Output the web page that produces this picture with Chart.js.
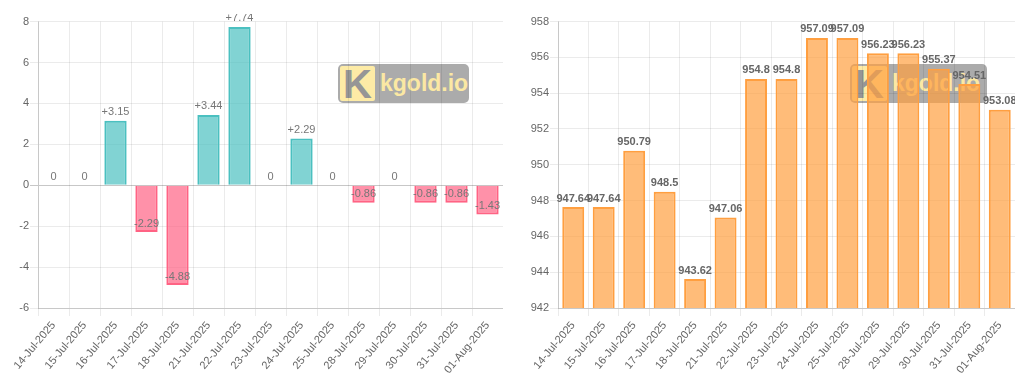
<!DOCTYPE html>
<html>
<head>
<meta charset="utf-8">
<script src="https://cdn.jsdelivr.net/npm/chart.js@4.4.0/dist/chart.umd.min.js"></script>
<style>
  html, body { margin: 0; padding: 0; background: #fff; width: 1024px; height: 383px; overflow: hidden; }
  .box { position: absolute; }
  .wm { position: absolute; height: 39px; background: rgba(128,128,128,0.66); border-radius: 5px;
        display: flex; align-items: center; font-family: "Liberation Sans", Arial, sans-serif; }
  .wm .ic { width: 35px; height: 35px; margin-left: 2px; background: #fdeba6; color: rgba(150,150,150,1);
            font-weight: bold; font-size: 40px; line-height: 36px; text-align: center; overflow: hidden; border-radius: 2px; }
  .wm .tx { margin-left: 5px; color: #fbe8a3; font-weight: bold; font-size: 23px; }
  canvas { position: relative; z-index: 2; }
</style>
</head>
<body>
<div class="wm" style="left:338px; top:64px; width:131px;"><div class="ic">K</div><div class="tx">kgold.io</div></div>
<div class="wm" style="left:850px; top:64px; width:137px;"><div class="ic">K</div><div class="tx">kgold.io</div></div>
<div class="box" style="left:0px; top:14px; width:503px; height:369px;"><canvas id="c1"></canvas></div>
<div class="box" style="left:512px; top:14px; width:503px; height:369px;"><canvas id="c2"></canvas></div>
<script>
const categories = ["14-Jul-2025","15-Jul-2025","16-Jul-2025","17-Jul-2025","18-Jul-2025","21-Jul-2025","22-Jul-2025","23-Jul-2025","24-Jul-2025","25-Jul-2025","28-Jul-2025","29-Jul-2025","30-Jul-2025","31-Jul-2025","01-Aug-2025"];
const changeValues = [0, 0, 3.15, -2.29, -4.88, 3.44, 7.74, 0, 2.29, 0, -0.86, 0, -0.86, -0.86, -1.43];
const priceValues = [947.64, 947.64, 950.79, 948.5, 943.62, 947.06, 954.8, 954.8, 957.09, 957.09, 956.23, 956.23, 955.37, 954.51, 953.08];
const changeTicks = [-6, -4, -2, 0, 2, 4, 6, 8];
const priceTicks = [942, 944, 946, 948, 950, 952, 954, 956, 958];

Chart.defaults.font.family = "'Liberation Sans', Arial, sans-serif";
Chart.defaults.font.size = 11;
Chart.defaults.color = '#666';

function labelPlugin(fmt, bold) {
  return {
    id: 'valLabels',
    afterDatasetsDraw(chart) {
      const ctx = chart.ctx;
      const meta = chart.getDatasetMeta(0);
      const data = chart.data.datasets[0].data;
      ctx.save();
      ctx.font = (bold ? 'bold ' : '') + "11px 'Liberation Sans', Arial, sans-serif";
      ctx.fillStyle = bold ? '#666' : '#777';
      ctx.textAlign = 'center';
      ctx.textBaseline = 'bottom';
      meta.data.forEach((bar, i) => {
        ctx.fillText(fmt(data[i]), bar.x, bar.y - 3);
      });
      ctx.restore();
    }
  };
}

function gridColor(zero) {
  return (c) => (zero && c.tick && c.tick.value === 0) ? 'rgba(0,0,0,0.22)' : 'rgba(0,0,0,0.08)';
}

function xScale() {
  return { ticks: { minRotation: 50, maxRotation: 50, autoSkip: false },
           grid: { color: 'rgba(0,0,0,0.08)' }, border: { color: 'rgba(0,0,0,0.15)' },
           afterFit: (s) => { s.height = 75; } };
}

new Chart(document.getElementById('c1'), {
  type: 'bar',
  data: {
    labels: categories,
    datasets: [{
      data: changeValues,
      backgroundColor: changeValues.map(v => v >= 0 ? 'rgba(75,192,192,0.7)' : 'rgba(255,99,132,0.7)'),
      borderColor: changeValues.map(v => v >= 0 ? 'rgba(75,192,192,1)' : 'rgba(255,99,132,1)'),
      borderWidth: changeValues.map(v => v === 0 ? 0 : 2)
    }]
  },
  options: {
    responsive: true, maintainAspectRatio: false, animation: false,
    layout: { padding: { top: 7, left: 0, right: 0, bottom: 0 } },
    plugins: { legend: { display: false }, tooltip: { enabled: false } },
    scales: {
      x: xScale(),
      y: { min: changeTicks[0], max: changeTicks[changeTicks.length - 1],
           ticks: { padding: 1 },
           afterBuildTicks: (s) => { s.ticks = changeTicks.map(v => ({ value: v })); },
           afterFit: (s) => { s.width = 38; },
           grid: { color: gridColor(true) }, border: { color: 'rgba(0,0,0,0.15)' } }
    }
  },
  plugins: [labelPlugin(v => v > 0 ? '+' + v : String(v), false)]
});

new Chart(document.getElementById('c2'), {
  type: 'bar',
  data: {
    labels: categories,
    datasets: [{
      data: priceValues,
      backgroundColor: 'rgba(255,159,64,0.7)',
      borderColor: 'rgba(255,159,64,1)',
      borderWidth: 2
    }]
  },
  options: {
    responsive: true, maintainAspectRatio: false, animation: false,
    layout: { padding: { top: 7, left: 0, right: 0, bottom: 0 } },
    plugins: { legend: { display: false }, tooltip: { enabled: false } },
    scales: {
      x: xScale(),
      y: { min: priceTicks[0], max: priceTicks[priceTicks.length - 1],
           ticks: { padding: 1 },
           afterBuildTicks: (s) => { s.ticks = priceTicks.map(v => ({ value: v })); },
           afterFit: (s) => { s.width = 46; },
           grid: { color: 'rgba(0,0,0,0.08)' }, border: { color: 'rgba(0,0,0,0.15)' } }
    }
  },
  plugins: [labelPlugin(v => String(v), true)]
});
</script>
</body>
</html>
